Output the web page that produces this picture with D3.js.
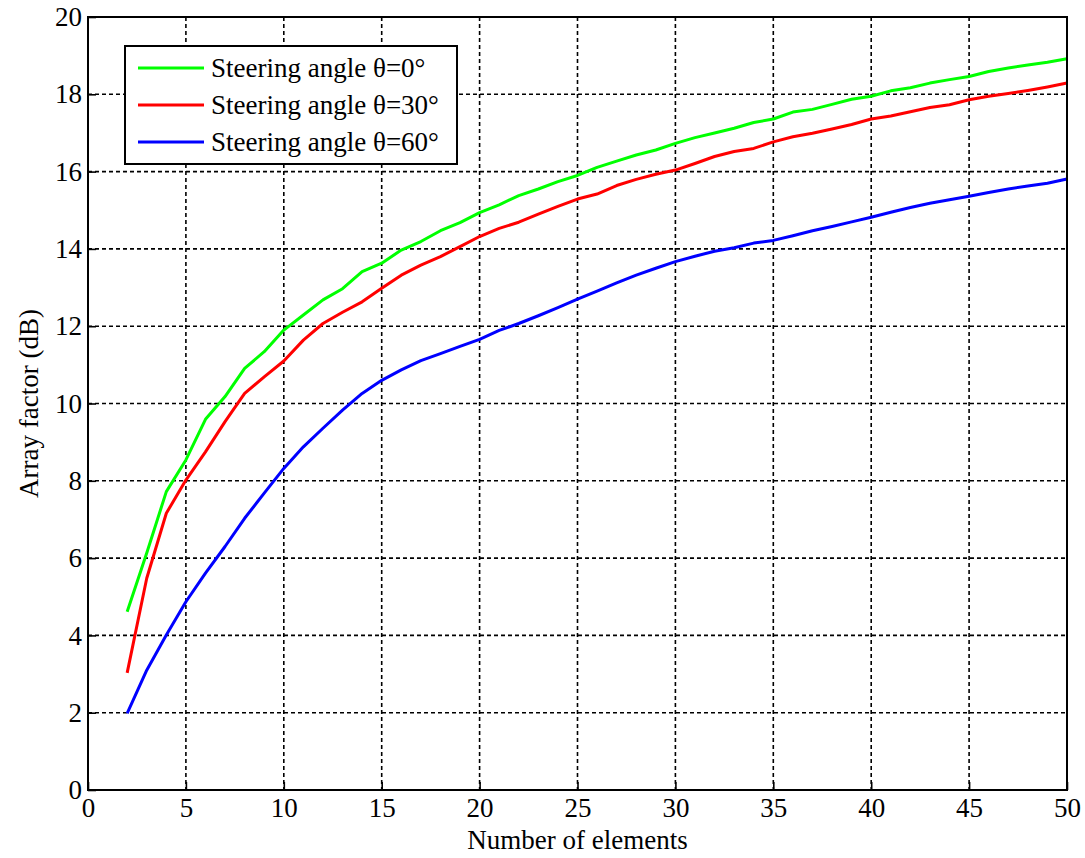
<!DOCTYPE html>
<html>
<head>
<meta charset="utf-8">
<script src="https://cdn.jsdelivr.net/npm/d3@7"></script>
<style>
  body { margin: 0; background: #fff; }
  svg text { font-family: "Liberation Serif", "Times New Roman", serif; fill: #000; }
</style>
</head>
<body>
<svg id="chart" width="1085" height="858"></svg>
<script>
// number of array elements
var elements = [2, 3, 4, 5, 6, 7, 8, 9, 10, 11, 12, 13, 14, 15, 16, 17, 18, 19, 20, 21, 22, 23, 24, 25, 26,
  27, 28, 29, 30, 31, 32, 33, 34, 35, 36, 37, 38, 39, 40, 41, 42, 43, 44, 45, 46, 47, 48, 49, 50];

// array factor (dB)
var af0 = [4.61, 6.13, 7.72, 8.54, 9.59, 10.18, 10.91, 11.34, 11.90, 12.29, 12.68, 12.97, 13.41, 13.63,
  13.97, 14.19, 14.47, 14.68, 14.94, 15.14, 15.38, 15.55, 15.74, 15.90, 16.11, 16.27, 16.43, 16.56, 16.73,
  16.88, 17.00, 17.12, 17.27, 17.36, 17.54, 17.61, 17.74, 17.87, 17.95, 18.09, 18.17, 18.29, 18.38, 18.46,
  18.59, 18.68, 18.76, 18.83, 18.92];
var af30 = [3.03, 5.48, 7.16, 8.02, 8.75, 9.53, 10.26, 10.69, 11.10, 11.64, 12.07, 12.36, 12.63, 12.98,
  13.32, 13.58, 13.80, 14.06, 14.32, 14.53, 14.69, 14.90, 15.10, 15.29, 15.42, 15.64, 15.80, 15.93, 16.04,
  16.21, 16.39, 16.52, 16.60, 16.77, 16.90, 16.99, 17.10, 17.22, 17.36, 17.44, 17.55, 17.66, 17.73, 17.86,
  17.95, 18.02, 18.10, 18.19, 18.29];
var af60 = [1.98, 3.10, 4.01, 4.87, 5.61, 6.30, 7.03, 7.68, 8.32, 8.88, 9.36, 9.83, 10.26, 10.60, 10.87,
  11.11, 11.29, 11.48, 11.66, 11.89, 12.07, 12.27, 12.48, 12.70, 12.91, 13.12, 13.32, 13.50, 13.67, 13.81,
  13.94, 14.03, 14.15, 14.22, 14.34, 14.47, 14.58, 14.70, 14.82, 14.95, 15.07, 15.18, 15.27, 15.36, 15.46,
  15.55, 15.63, 15.70, 15.81];

var seriesNames = ["Steering angle \u03b8=0\u00b0", "Steering angle \u03b8=30\u00b0", "Steering angle \u03b8=60\u00b0"];
var seriesColors = ["#00ff00", "#ff0000", "#0000ff"];

var xTicks = [0, 5, 10, 15, 20, 25, 30, 35, 40, 45, 50];
var yTicks = [0, 2, 4, 6, 8, 10, 12, 14, 16, 18, 20];

var margin = { left: 88, top: 17, right: 1067, bottom: 790 };
var fontSize = 27;

var svg = d3.select("#chart");

var x = d3.scaleLinear().domain([0, 50]).range([margin.left, margin.right]);
var y = d3.scaleLinear().domain([0, 20]).range([margin.bottom, margin.top]);

// grid
var grid = svg.append("g")
  .attr("stroke", "#000")
  .attr("stroke-width", 1.6)
  .attr("stroke-dasharray", "4,3");

grid.selectAll("line.gx")
  .data(xTicks.slice(1, -1))
  .enter()
  .append("line")
  .attr("x1", d => x(d)).attr("x2", d => x(d))
  .attr("y1", margin.top).attr("y2", margin.bottom);

grid.selectAll("line.gy")
  .data(yTicks.slice(1, -1))
  .enter()
  .append("line")
  .attr("y1", d => y(d)).attr("y2", d => y(d))
  .attr("x1", margin.left).attr("x2", margin.right);

// axes with ticks inside
var xAxis = svg.append("g")
  .attr("transform", "translate(0," + margin.bottom + ")")
  .call(d3.axisBottom(x).tickValues(xTicks).tickSizeInner(-8).tickSizeOuter(0).tickPadding(12));
var yAxis = svg.append("g")
  .attr("transform", "translate(" + margin.left + ",0)")
  .call(d3.axisLeft(y).tickValues(yTicks).tickSizeInner(-8).tickSizeOuter(0).tickPadding(14));

[xAxis, yAxis].forEach(function(a) {
  a.select(".domain").remove();
  a.attr("font-family", null).attr("font-size", null);
  a.selectAll("line").attr("stroke", "#000").attr("stroke-width", 1.6);
  a.selectAll("text").attr("font-size", fontSize);
});
xAxis.selectAll("text").attr("dy", "0.55em");
yAxis.selectAll("text").attr("dx", "0.3em");

// curves
var line = d3.line()
  .x((d, i) => x(elements[i]))
  .y(d => y(d));

svg.append("g")
  .selectAll("path")
  .data([af0, af30, af60])
  .enter()
  .append("path")
  .attr("d", line)
  .attr("fill", "none")
  .attr("stroke", (d, i) => seriesColors[i])
  .attr("stroke-width", 3)
  .attr("stroke-linejoin", "round");

// box
svg.append("rect")
  .attr("x", margin.left).attr("y", margin.top)
  .attr("width", margin.right - margin.left)
  .attr("height", margin.bottom - margin.top)
  .attr("fill", "none")
  .attr("stroke", "#000")
  .attr("stroke-width", 2);

// axis labels
svg.append("text")
  .attr("x", (margin.left + margin.right) / 2)
  .attr("y", 849)
  .attr("text-anchor", "middle")
  .attr("font-size", fontSize)
  .text("Number of elements");

svg.append("text")
  .attr("transform", "translate(38," + (margin.top + margin.bottom) / 2 + ") rotate(-90)")
  .attr("text-anchor", "middle")
  .attr("font-size", fontSize)
  .text("Array factor (dB)");

// legend
var legend = svg.append("g");
legend.append("rect")
  .attr("x", 125).attr("y", 46)
  .attr("width", 332).attr("height", 118)
  .attr("fill", "#fff")
  .attr("stroke", "#000")
  .attr("stroke-width", 2);

var rows = legend.selectAll("g.row")
  .data(seriesNames)
  .enter()
  .append("g")
  .attr("transform", (d, i) => "translate(0," + (68 + i * 37) + ")");

rows.append("line")
  .attr("x1", 138).attr("x2", 204)
  .attr("stroke", (d, i) => seriesColors[i])
  .attr("stroke-width", 3);

rows.append("text")
  .attr("x", 211)
  .attr("dy", "0.33em")
  .attr("font-size", fontSize)
  .text(d => d);
</script>
</body>
</html>
